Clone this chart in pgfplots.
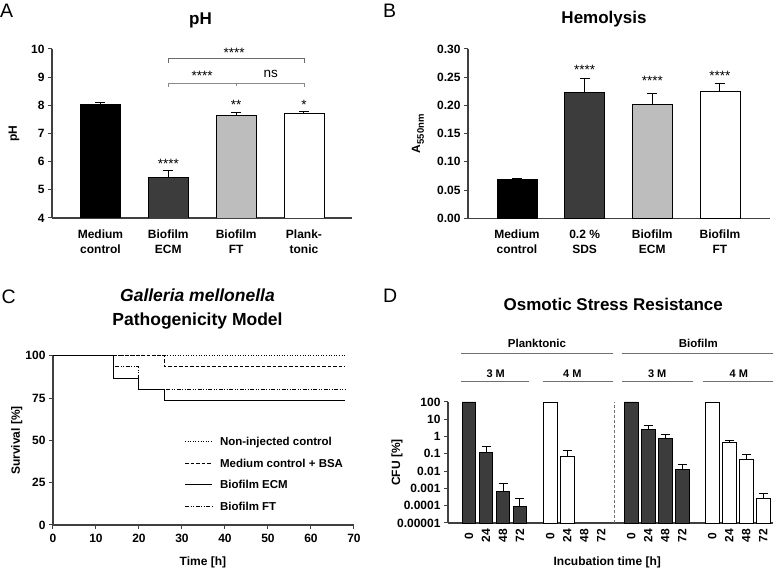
\documentclass[border=0pt]{standalone}
\usepackage{pgfplots}
\pgfplotsset{compat=1.18}
\usepackage{fontspec}
\setmainfont{Liberation Sans}
\definecolor{axgray}{HTML}{404040}
\definecolor{dgray}{HTML}{3C3C3C}
\definecolor{lgray}{HTML}{BDBDBD}
\definecolor{brgray}{HTML}{8A8A8A}
\definecolor{brdark}{HTML}{6A6A6A}
\definecolor{hdgray}{HTML}{707070}
\newcommand{\tl}{\bfseries\fontsize{12}{15}\selectfont}
\newcommand{\ttl}{\bfseries\fontsize{17}{20}\selectfont}
\newcommand{\lett}{\fontsize{19.5}{22}\selectfont}
\newcommand{\stars}{\fontsize{13.5}{15}\selectfont}
\newcommand{\legf}{\bfseries\fontsize{11.5}{14}\selectfont}
\pgfplotsset{
  panel/.style={
    scale only axis, anchor=south west,
    axis lines=left,
    axis line style={-, line width=1.1pt, draw=axgray},
    tick style={line width=1pt, draw=axgray},
    tick align=outside,
    major tick length=4pt,
    ticklabel style={font=\tl, text=black},
    /pgf/number format/assume math mode=true,
    every axis y label/.style={font=\tl, rotate=90, anchor=center},
    every axis x label/.style={font=\tl, anchor=center},
  },
  ebar/.style={
    /pgfplots/error bars/y dir=plus,
    /pgfplots/error bars/y explicit,
    /pgfplots/error bars/error mark=|,
    /pgfplots/error bars/error bar style={line width=1pt, black},
    /pgfplots/error bars/error mark options={line width=1pt, black, mark size=#1},
  },
  bbar/.style={ybar, bar width=40pt, draw=black, line width=0.8pt, ebar=5pt},
  dbar/.style={ybar, bar width=13.5pt, draw=black, line width=0.8pt, ebar=4.5pt},
  dbar0/.style={ybar, bar width=13.5pt, draw=black, line width=0.8pt},
}
\begin{document}
\begin{tikzpicture}
\useasboundingbox (0pt,0pt) rectangle (777pt,572pt);
% ---------------- Panel A ----------------
\begin{axis}[panel, at={(52pt,354pt)}, width=300pt, height=169pt,
  xmin=-0.715, xmax=3.708, ymin=4, ymax=10, ytick={4,5,6,7,8,9,10},
  xtick={0,1,2,3},
  xticklabels={{Medium\\control},{Biofilm\\ECM},{Biofilm\\FT},{Plank-\\tonic}},
  xticklabel style={align=center, font=\bfseries\fontsize{12}{15}\selectfont},
  xticklabel shift=4pt,
  xtick style={draw=none},
  clip mode=individual,
  ylabel={pH},
  every axis y label/.append style={at={(axis description cs:-0.127,0.5)}},
]
\addplot[bbar, fill=black] coordinates {(0,8.05) +- (0,0.05)};
\addplot[bbar, fill=dgray] coordinates {(1,5.44) +- (0,0.26)};
\addplot[bbar, fill=lgray] coordinates {(2,7.64) +- (0,0.09)};
\addplot[bbar, fill=white] coordinates {(3,7.73) +- (0,0.05)};
\draw[brgray, line width=0.9pt] (axis cs:1,8.66) -- (axis cs:1,8.78) -- (axis cs:3,8.78) -- (axis cs:3,8.66);
\draw[brgray, line width=0.9pt] (axis cs:2,8.78) -- (axis cs:2,8.67);
\draw[brdark, line width=0.9pt] (axis cs:1,9.51) -- (axis cs:1,9.67) -- (axis cs:3,9.67) -- (axis cs:3,9.51);
\node[anchor=base, font=\stars] at (axis cs:1.5,8.88) {****};
\node[anchor=base, font=\stars] at (axis cs:2.51,8.99) {ns};
\node[anchor=base, font=\stars] at (axis cs:1.97,9.71) {****};
\node[anchor=base, font=\stars] at (axis cs:1,5.76) {****};
\node[anchor=base, font=\stars] at (axis cs:2,7.85) {**};
\node[anchor=base, font=\stars] at (axis cs:3,7.85) {*};
\end{axis}
% ---------------- Panel B ----------------
\begin{axis}[panel, at={(468pt,353.7pt)}, width=302pt, height=169.3pt,
  xmin=-0.724, xmax=3.74, ymin=0, ymax=0.3,
  ytick={0,0.05,0.1,0.15,0.2,0.25,0.3},
  yticklabel style={/pgf/number format/.cd, fixed, fixed zerofill, precision=2},
  xtick={0,1,2,3},
  xticklabels={{Medium\\control},{0.2 \%\\SDS},{Biofilm\\ECM},{Biofilm\\FT}},
  xticklabel style={align=center, font=\bfseries\fontsize{12}{15}\selectfont},
  xticklabel shift=4pt,
  xtick style={draw=none},
  clip=false,
  ylabel={A\raisebox{-0.3em}{\bfseries\fontsize{9.5}{11}\selectfont 550nm}},
  every axis y label/.append style={at={(axis description cs:-0.166,0.5)}},
]
\addplot[bbar, fill=black] coordinates {(0,0.0696) +- (0,0.0017)};
\addplot[bbar, fill=dgray] coordinates {(1,0.2226) +- (0,0.0248)};
\addplot[bbar, fill=lgray] coordinates {(2,0.202) +- (0,0.020)};
\addplot[bbar, fill=white] coordinates {(3,0.2243) +- (0,0.0142)};
\node[anchor=base, font=\stars] at (axis cs:1,0.2547) {****};
\node[anchor=base, font=\stars] at (axis cs:2,0.2359) {****};
\node[anchor=base, font=\stars] at (axis cs:3,0.2448) {****};
\end{axis}
% ---------------- Panel C ----------------
\begin{axis}[panel, at={(53pt,47pt)}, width=301pt, height=169.3pt,
  xmin=0, xmax=70, ymin=0, ymax=100,
  xtick={0,10,20,30,40,50,60,70}, ytick={0,25,50,75,100},
  xticklabel shift=2pt,
  clip=false,
  xlabel={Time [h]}, ylabel={Survival [\%]},
  every axis x label/.append style={at={(axis description cs:0.498,-0.2185)}},
  every axis y label/.append style={at={(axis description cs:-0.12,0.5)}},
]
\addplot[const plot, black, line width=1pt, dash pattern=on 1pt off 1.6pt] coordinates {(0,100) (68,100)};
\addplot[const plot, black, line width=1pt, dash pattern=on 3.5pt off 2pt] coordinates {(0,100) (26,93.33) (68,93.33)};
\addplot[const plot, black, line width=1pt, dash pattern=on 4pt off 1.5pt on 1pt off 1.5pt on 1pt off 1.5pt] coordinates {(0,100) (14,93.33) (20,80) (68,80)};
\addplot[const plot, black, line width=1pt] coordinates {(0,100) (14,86.67) (20,80) (26,73.33) (68,73.33)};
\draw[black, line width=1pt, dash pattern=on 1pt off 1.6pt] (axis cs:30.7,49.2) -- (axis cs:36.9,49.2);
\draw[black, line width=1pt, dash pattern=on 3.5pt off 2pt] (axis cs:30.7,36.4) -- (axis cs:36.9,36.4);
\draw[black, line width=1pt] (axis cs:30.7,24.0) -- (axis cs:36.9,24.0);
\draw[black, line width=1pt, dash pattern=on 4pt off 1.5pt on 1pt off 1.5pt on 1pt off 1.5pt] (axis cs:30.7,11.2) -- (axis cs:36.9,11.2);
\node[anchor=west, inner sep=0pt, text height=8.3pt, text depth=0pt, font=\legf] at (axis cs:38.8,49.2) {Non-injected control};
\node[anchor=west, inner sep=0pt, text height=8.3pt, text depth=0pt, font=\legf] at (axis cs:38.8,36.4) {Medium control + BSA};
\node[anchor=west, inner sep=0pt, text height=8.3pt, text depth=0pt, font=\legf] at (axis cs:38.8,24.0) {Biofilm ECM};
\node[anchor=west, inner sep=0pt, text height=8.3pt, text depth=0pt, font=\legf] at (axis cs:38.8,11.2) {Biofilm FT};
\end{axis}
% ---------------- Panel D ----------------
\begin{axis}[panel, at={(448pt,49pt)}, width=325pt, height=121pt,
  ymode=log, log origin=infty, ymin=1e-5, ymax=100, yminorticks=false,
  ytick={1e-5,1e-4,1e-3,1e-2,1e-1,1,10,100},
  yticklabels={0.00001,0.0001,0.001,0.01,0.1,1,10,100},
  xmin=-1.24, xmax=17.9,
  xtick={0,1,2,3,4.78,5.78,6.78,7.78,9.55,10.55,11.55,12.55,14.32,15.32,16.32,17.32},
  xticklabels={0,24,48,72,0,24,48,72,0,24,48,72,0,24,48,72},
  xticklabel style={rotate=90, anchor=center},
  xticklabel shift=9pt,
  xtick style={draw=none},
  clip=false,
  xlabel={Incubation time [h]}, ylabel={CFU [\%]},
  every axis x label/.append style={at={(axis description cs:0.49,-0.322)}},
  every axis y label/.append style={at={(axis description cs:-0.157,0.5)}},
]
\addplot[dbar0, fill=dgray] coordinates {(0,100) (9.55,100)};
\addplot[dbar0, fill=white] coordinates {(4.78,100) (14.32,100)};
\addplot[dbar, fill=dgray] coordinates {(1,0.115) +- (0,0.165) (2,0.00065) +- (0,0.00125) (3,0.00009) +- (0,0.00016)};
\addplot[dbar, fill=white] coordinates {(5.78,0.074) +- (0,0.086)};
\addplot[dbar, fill=dgray] coordinates {(10.55,2.7) +- (0,1.9) (11.55,0.79) +- (0,0.56) (12.55,0.013) +- (0,0.012)};
\addplot[dbar, fill=white] coordinates {(15.32,0.46) +- (0,0.17) (16.32,0.046) +- (0,0.043) (17.32,0.00025) +- (0,0.00029)};
\draw[hdgray, line width=1pt, dash pattern=on 3pt off 2pt] (axis cs:8.59,1e-5) -- (axis cs:8.59,100);
\draw[hdgray, line width=1pt] (axis cs:-0.47,68200) -- (axis cs:8.46,68200);
\draw[hdgray, line width=1pt] (axis cs:8.99,68200) -- (axis cs:17.91,68200);
\draw[hdgray, line width=1pt] (axis cs:-0.47,1493) -- (axis cs:3.55,1493);
\draw[hdgray, line width=1pt] (axis cs:4.34,1493) -- (axis cs:8.46,1493);
\draw[hdgray, line width=1pt] (axis cs:9.02,1493) -- (axis cs:13.17,1493);
\draw[hdgray, line width=1pt] (axis cs:13.79,1493) -- (axis cs:17.91,1493);
\node[anchor=base, font=\legf] at (axis cs:4.0,1.46e5) {Planktonic};
\node[anchor=base, font=\legf] at (axis cs:13.5,1.46e5) {Biofilm};
\node[anchor=base, font=\bfseries\fontsize{11}{13}\selectfont] at (axis cs:1.57,2690) {3 M};
\node[anchor=base, font=\bfseries\fontsize{11}{13}\selectfont] at (axis cs:6.08,2690) {4 M};
\node[anchor=base, font=\bfseries\fontsize{11}{13}\selectfont] at (axis cs:11.08,2690) {3 M};
\node[anchor=base, font=\bfseries\fontsize{11}{13}\selectfont] at (axis cs:15.89,2690) {4 M};
\end{axis}
% ---------------- Titles and panel letters ----------------
\node[anchor=base, font=\ttl] at (200.5pt,547pt) {pH};
\node[anchor=base, font=\ttl] at (604pt,548.7pt) {Hemolysis};
\node[anchor=base, font=\bfseries\itshape\fontsize{17.5}{20}\selectfont] at (197.5pt,270.3pt) {Galleria mellonella};
\node[anchor=base, font=\bfseries\fontsize{17.5}{20}\selectfont] at (197.5pt,246pt) {Pathogenicity Model};
\node[anchor=base, font=\ttl] at (613.3pt,261pt) {Osmotic Stress Resistance};
\node[anchor=base west, inner sep=0pt, font=\lett] at (0pt,554pt) {A};
\node[anchor=base west, inner sep=0pt, font=\lett] at (383pt,554.7pt) {B};
\node[anchor=base west, inner sep=0pt, font=\lett] at (1.5pt,268.7pt) {C};
\node[anchor=base west, inner sep=0pt, font=\lett] at (383pt,269pt) {D};
\end{tikzpicture}
\end{document}
